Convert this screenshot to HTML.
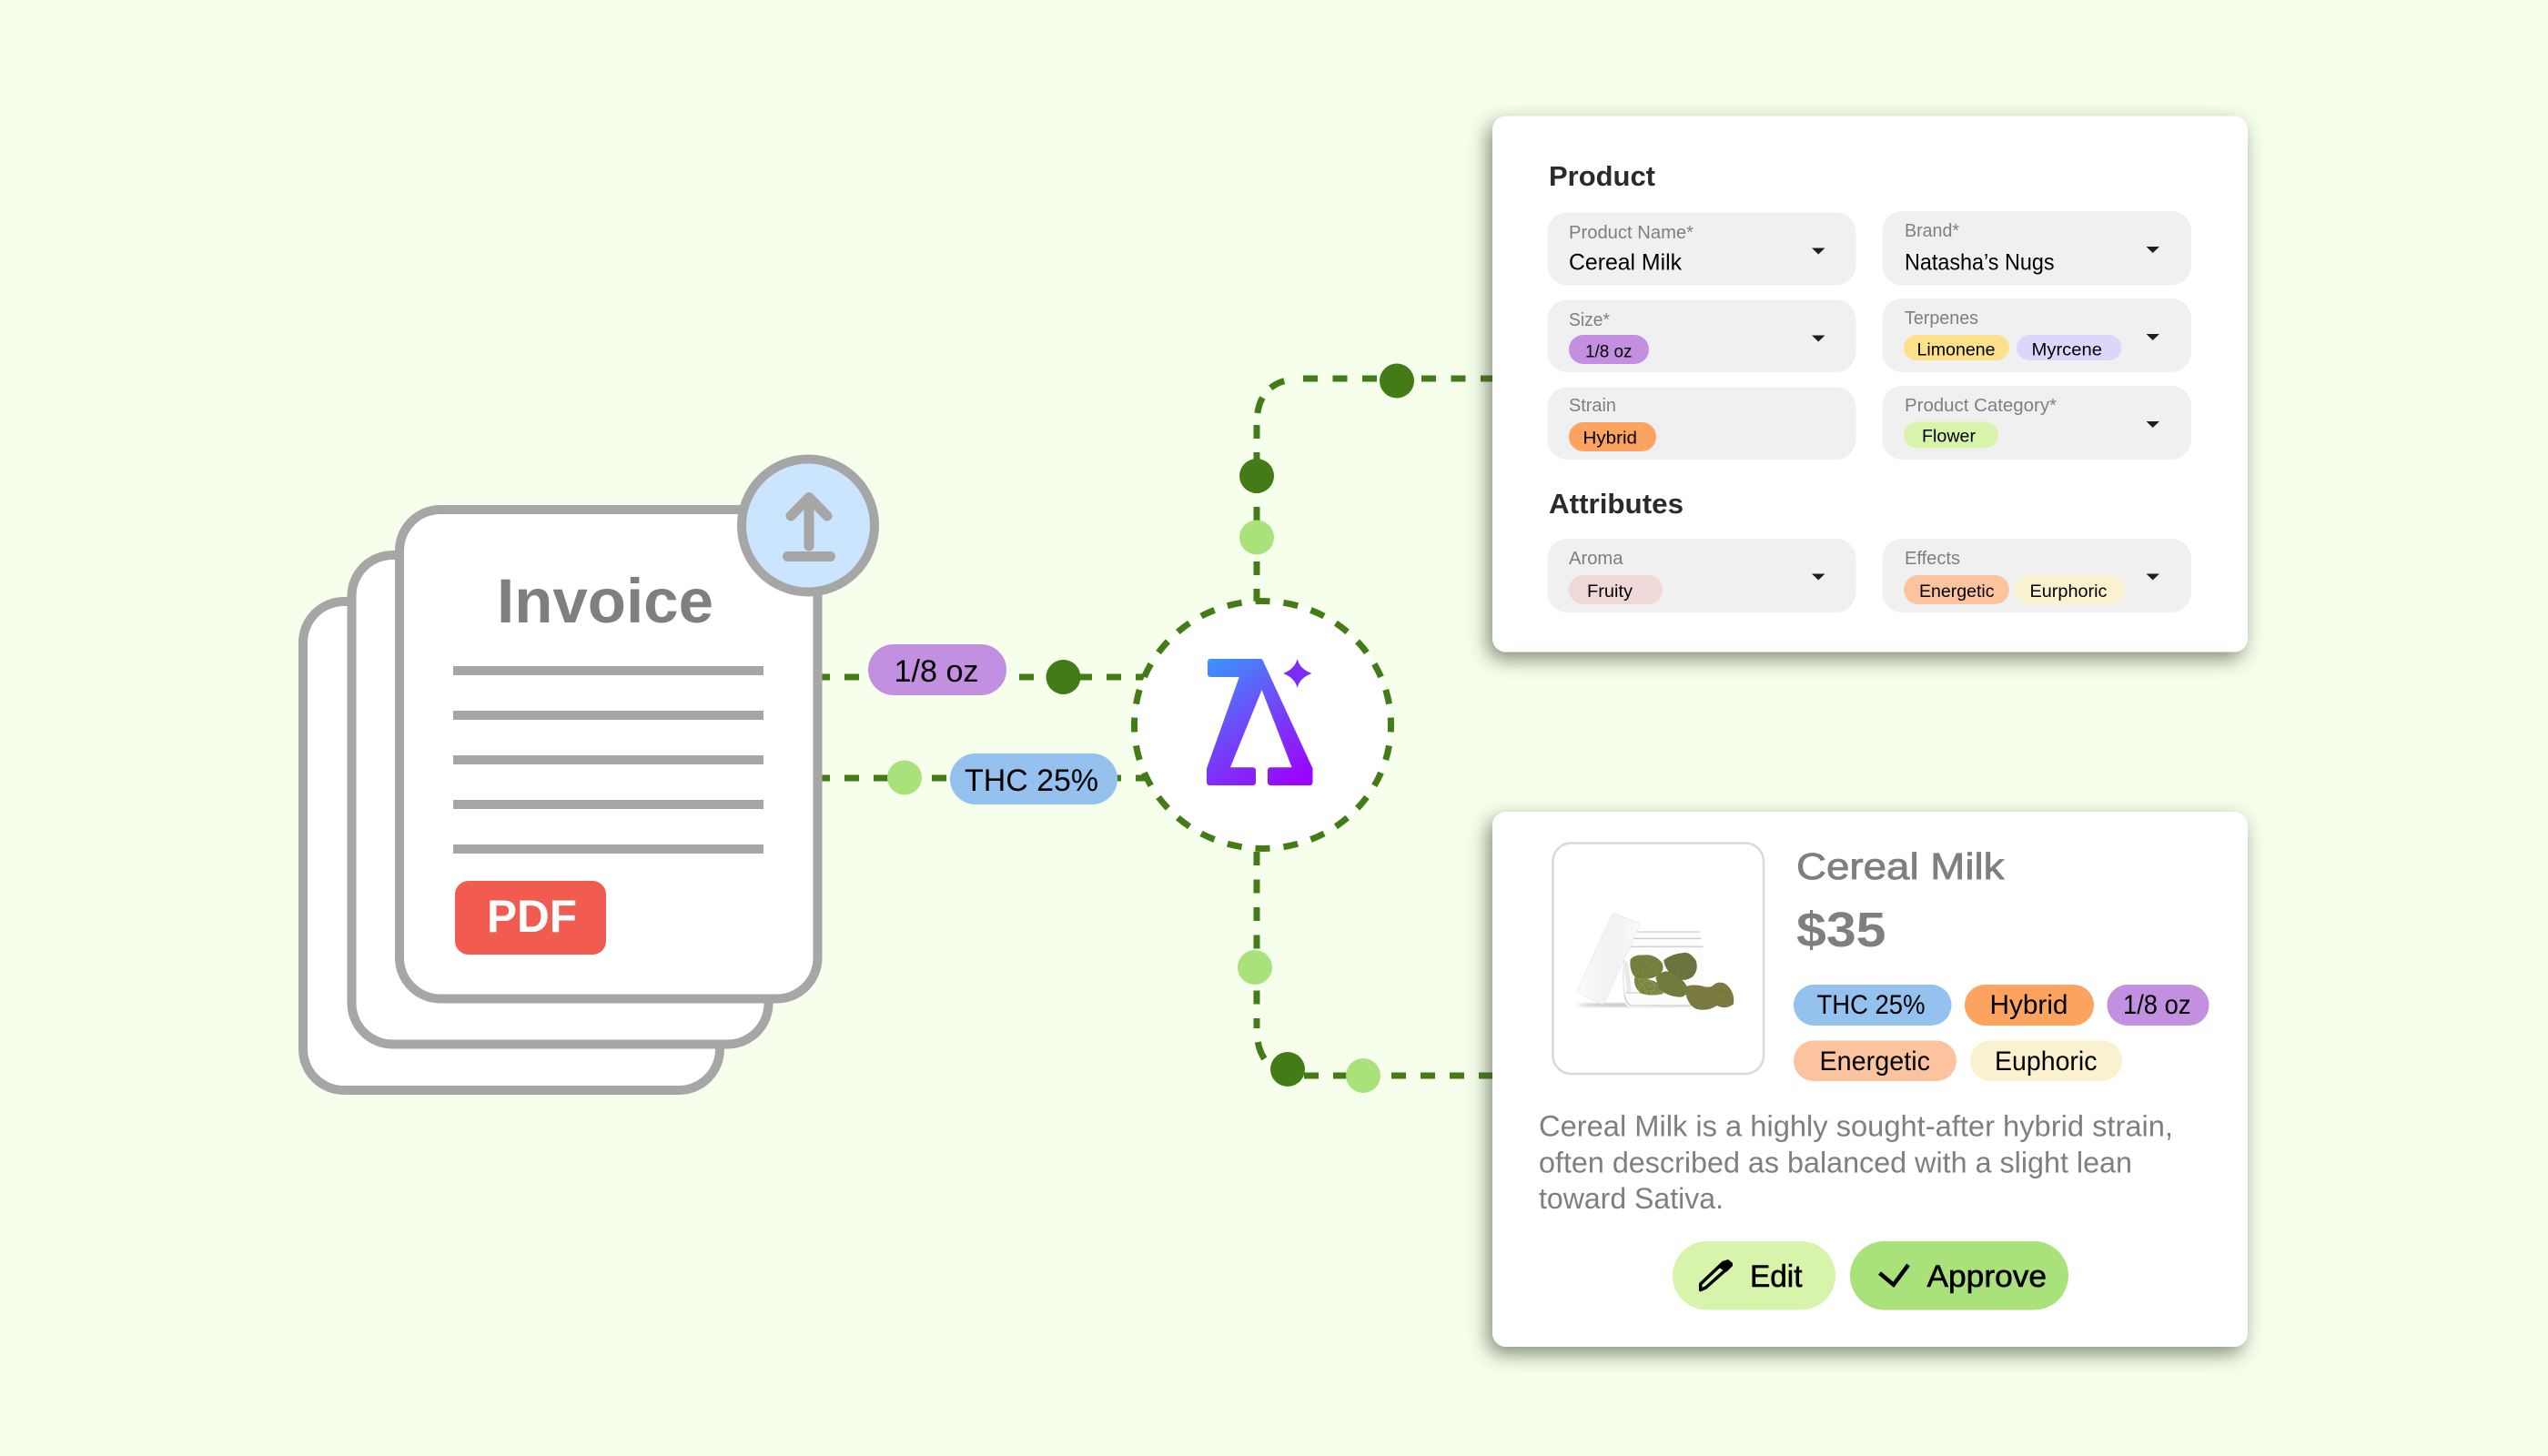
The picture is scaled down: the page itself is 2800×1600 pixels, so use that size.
<!DOCTYPE html>
<html lang="en">
<head>
<meta charset="utf-8">
<title>Invoice to product diagram</title>
<style>
html,body{margin:0;padding:0;background:#f6ffec;width:2800px;height:1600px;overflow:hidden}
svg{display:block}
text{font-family:"Liberation Sans",sans-serif}
.dash{fill:none;stroke:#437c17;stroke-width:7}
.h16{stroke-dasharray:16 16}
.dk{fill:#437c17}
.lt{fill:#a9e27a}
.doc{fill:#fff;stroke:#a6a6a6;stroke-width:10}
.ln{fill:#a6a6a6}
.fld{fill:#f1f0f0}
.lab{font-size:20px;fill:#7f7f7f}
.val{font-size:25px;fill:#000}
.tag{font-size:19px;fill:#000}
.big{font-size:31px;font-weight:700;fill:#2b2b2b}
.pill{font-size:30px;fill:#000}
.desc{font-size:32px;fill:#7f7f7f}
.btn{font-size:34px;fill:#000;stroke:#000;stroke-width:.6}
.arr{fill:#1e1e1e}
</style>
</head>
<body>
<svg xmlns="http://www.w3.org/2000/svg" width="2800" height="1600" viewBox="0 0 2800 1600">
<defs>
<linearGradient id="lg" gradientUnits="userSpaceOnUse" x1="1330" y1="722" x2="1420" y2="860">
<stop offset="0" stop-color="#3a96fb"/>
<stop offset=".45" stop-color="#6a50f8"/>
<stop offset="1" stop-color="#9a06fb"/>
</linearGradient>
<filter id="sh" x="-15%" y="-15%" width="130%" height="130%">
<feDropShadow dx="-5" dy="8" stdDeviation="11" flood-color="#3c4630" flood-opacity=".62"/>
</filter>
<filter id="bud" x="-5%" y="-5%" width="110%" height="110%">
<feTurbulence type="fractalNoise" baseFrequency=".16" numOctaves="3" seed="7" result="n"/>
<feColorMatrix in="n" type="matrix" values="0 0 0 0 .16  0 0 0 0 .19  0 0 0 0 .06  0 0 0 5 -2.2" result="c"/>
<feComposite in="c" in2="SourceAlpha" operator="in" result="t"/>
<feMerge><feMergeNode in="SourceGraphic"/><feMergeNode in="t"/></feMerge>
</filter>
<filter id="bl"><feGaussianBlur stdDeviation="5"/></filter>
<linearGradient id="lid" x1="0" y1="0" x2="1" y2="0">
<stop offset="0" stop-color="#fbfbfb"/><stop offset=".6" stop-color="#f1f1f1"/><stop offset="1" stop-color="#fbfbfb"/>
</linearGradient>
</defs>

<rect width="2800" height="1600" fill="#f6ffec"/>

<!-- connectors -->
<line class="dash h16" x1="896" y1="744" x2="1262" y2="744"/>
<line class="dash h16" x1="896" y1="855" x2="1262" y2="855"/>

<path class="dash" d="M1381 662V466" stroke-dasharray="15 15"/>
<path class="dash" d="M1381 466Q1381 416 1432 416" stroke-dasharray="0 12 18 14 17 100"/>
<path class="dash" d="M1432 416H1640" stroke-dasharray="16 16.5"/>

<path class="dash" d="M1381 936V1130" stroke-dasharray="15 15.5"/>
<path class="dash" d="M1381 1130Q1381 1182 1433 1182" stroke-dasharray="0 15 20 100"/>
<path class="dash" d="M1433 1182H1640" stroke-dasharray="16 16"/>

<!-- documents -->
<rect class="doc" x="333" y="661" width="458" height="537" rx="45"/>
<rect class="doc" x="386.500" y="610" width="458" height="537.500" rx="45"/>
<rect class="doc" x="439" y="560" width="459.500" height="537.500" rx="45"/>
<text x="546" y="684" font-size="69" font-weight="700" fill="#7f7f7f" textLength="238" lengthAdjust="spacingAndGlyphs">Invoice</text>
<rect class="ln" x="498" y="732" width="341" height="10"/>
<rect class="ln" x="498" y="781" width="341" height="10"/>
<rect class="ln" x="498" y="830" width="341" height="10"/>
<rect class="ln" x="498" y="879" width="341" height="10"/>
<rect class="ln" x="498" y="928" width="341" height="10"/>
<rect x="500" y="968" width="166" height="81" rx="15" fill="#f15b50"/>
<text x="535" y="1024" font-size="50" font-weight="700" fill="#fff" textLength="99" lengthAdjust="spacingAndGlyphs">PDF</text>

<circle cx="888" cy="577.500" r="73" fill="#cce5ff" stroke="#a6a6a6" stroke-width="10"/>
<path d="M889 600V548M869 567L889 546.500L909 567" fill="none" stroke="#a6a6a6" stroke-width="11" stroke-linecap="round" stroke-linejoin="round"/>
<rect x="860" y="606" width="58" height="11" rx="5.500" fill="#a6a6a6"/>

<!-- flow pills -->
<rect x="954" y="708" width="152" height="56" rx="28" fill="#c38fe0"/>
<text x="982.500" y="749" font-size="34" fill="#000" textLength="93" lengthAdjust="spacingAndGlyphs">1/8 oz</text>
<circle class="dk" cx="1168.500" cy="744" r="19"/>
<circle class="lt" cx="994" cy="854.500" r="19"/>
<rect x="1044" y="828" width="184" height="56" rx="28" fill="#94c1ee"/>
<text x="1060" y="869" font-size="34" fill="#000" textLength="147" lengthAdjust="spacingAndGlyphs">THC 25%</text>

<!-- central node -->
<ellipse cx="1387.500" cy="796.500" rx="141" ry="136" fill="#fff" stroke="#437c17" stroke-width="7" pathLength="868" stroke-dasharray="16 15" stroke-dashoffset="8"/>
<path d="M1330 727H1385L1439.500 845V860H1396V846.300H1424L1386.700 750L1347.500 846.300H1377V860H1329V845L1366 741H1330Z" fill="url(#lg)" stroke="url(#lg)" stroke-width="6" stroke-linejoin="round"/>
<path d="M1425.700 724Q1428 735 1441.500 740Q1428 745 1425.700 756Q1423 745 1410 740Q1423 735 1425.700 724Z" fill="#7c2cf5"/>

<circle class="dk" cx="1381" cy="523" r="19"/>
<circle class="lt" cx="1381" cy="590.500" r="19"/>
<circle class="dk" cx="1535" cy="418.500" r="19"/>
<circle class="lt" cx="1379" cy="1063" r="19"/>
<circle class="dk" cx="1415" cy="1175" r="19"/>
<circle class="lt" cx="1498" cy="1182" r="19"/>

<!-- card 1 -->
<rect x="1640" y="127.500" width="830" height="589" rx="15" fill="#fff" filter="url(#sh)"/>
<text class="big" x="1702" y="204" textLength="117" lengthAdjust="spacingAndGlyphs">Product</text>

<rect class="fld" x="1700.500" y="233.500" width="339" height="80" rx="22"/>
<rect class="fld" x="2068.500" y="232" width="339.500" height="81.500" rx="22"/>
<rect class="fld" x="1700.500" y="329.500" width="339" height="79.500" rx="22"/>
<rect class="fld" x="2068.500" y="328" width="339.500" height="81" rx="22"/>
<rect class="fld" x="1700.500" y="425.500" width="339" height="79.500" rx="22"/>
<rect class="fld" x="2068.500" y="424" width="339.500" height="81" rx="22"/>
<rect class="fld" x="1700.500" y="592" width="339" height="81" rx="22"/>
<rect class="fld" x="2068.500" y="592" width="339.500" height="81" rx="22"/>

<text class="lab" x="1724" y="262" textLength="137" lengthAdjust="spacingAndGlyphs">Product Name*</text>
<text class="val" x="1724" y="296.500" textLength="124" lengthAdjust="spacingAndGlyphs">Cereal Milk</text>
<text class="lab" x="2093" y="260" textLength="60" lengthAdjust="spacingAndGlyphs">Brand*</text>
<text class="val" x="2093" y="296.500" textLength="164.500" lengthAdjust="spacingAndGlyphs">Natasha’s Nugs</text>

<text class="lab" x="1724" y="358" textLength="45" lengthAdjust="spacingAndGlyphs">Size*</text>
<rect x="1724" y="368" width="88" height="32" rx="16" fill="#c38fe0"/>
<text class="tag" x="1742" y="392.500" textLength="51.500" lengthAdjust="spacingAndGlyphs">1/8 oz</text>

<text class="lab" x="2093" y="356" textLength="81" lengthAdjust="spacingAndGlyphs">Terpenes</text>
<rect x="2092" y="368" width="116" height="28" rx="14" fill="#fce08a"/>
<text class="tag" x="2106.500" y="390.500" textLength="86" lengthAdjust="spacingAndGlyphs">Limonene</text>
<rect x="2216" y="368" width="115.500" height="28" rx="14" fill="#dcd6fa"/>
<text class="tag" x="2232.500" y="390.500" textLength="77.500" lengthAdjust="spacingAndGlyphs">Myrcene</text>

<text class="lab" x="1724" y="452" textLength="52" lengthAdjust="spacingAndGlyphs">Strain</text>
<rect x="1724" y="464" width="96" height="32" rx="16" fill="#fba35f"/>
<text class="tag" x="1739.500" y="487.500" textLength="59.500" lengthAdjust="spacingAndGlyphs">Hybrid</text>

<text class="lab" x="2093" y="452" textLength="167" lengthAdjust="spacingAndGlyphs">Product Category*</text>
<rect x="2092" y="463.500" width="104" height="29" rx="14.500" fill="#d8f4ab"/>
<text class="tag" x="2112" y="485.500" textLength="59" lengthAdjust="spacingAndGlyphs">Flower</text>

<text class="big" x="1702" y="564" textLength="148" lengthAdjust="spacingAndGlyphs">Attributes</text>

<text class="lab" x="1724" y="620" textLength="59.500" lengthAdjust="spacingAndGlyphs">Aroma</text>
<rect x="1724" y="632" width="103" height="32" rx="16" fill="#f0d8d8"/>
<text class="tag" x="1744" y="656" textLength="50" lengthAdjust="spacingAndGlyphs">Fruity</text>

<text class="lab" x="2093" y="620" textLength="61" lengthAdjust="spacingAndGlyphs">Effects</text>
<rect x="2092" y="632" width="116" height="32" rx="16" fill="#fbc49f"/>
<text class="tag" x="2109" y="656" textLength="82.500" lengthAdjust="spacingAndGlyphs">Energetic</text>
<rect x="2214" y="632" width="121" height="32" rx="16" fill="#faf1cf"/>
<text class="tag" x="2230.500" y="656" textLength="85" lengthAdjust="spacingAndGlyphs">Eurphoric</text>

<path class="arr" d="M1991 272.500H2005.500L1998.200 279.500Z"/>
<path class="arr" d="M2358.500 271H2373L2365.700 278Z"/>
<path class="arr" d="M1991 368.500H2005.500L1998.200 375.500Z"/>
<path class="arr" d="M2358.500 367H2373L2365.700 374Z"/>
<path class="arr" d="M2358.500 463H2373L2365.700 470Z"/>
<path class="arr" d="M1991 630.500H2005.500L1998.200 637.500Z"/>
<path class="arr" d="M2358.500 630.500H2373L2365.700 637.500Z"/>

<!-- card 2 -->
<rect x="1640" y="892" width="830" height="588" rx="15" fill="#fff" filter="url(#sh)"/>
<rect x="1706.500" y="926.500" width="231.500" height="253.500" rx="20" fill="#fff" stroke="#d9d9d9" stroke-width="2.500"/>

<g transform="translate(1690 915) scale(.33333)">
<ellipse cx="320" cy="568" rx="190" ry="7" fill="#c4c4c4" filter="url(#bl)"/>
<path d="M318 325H535Q540 336 535 348L540 378Q548 470 542 560Q530 575 300 575Q282 565 285 540Q284 460 300 378L316 348Q312 335 318 325Z" fill="#fbfcfc"/>
<path d="M318 327H535M315 349H538M305 376H545" fill="none" stroke="#cdd2d1" stroke-width="4"/>
<path d="M285 535Q290 560 305 570H520M290 528H500" fill="none" stroke="#c9cecd" stroke-width="4"/>
<path d="M285 420Q278 480 285 535" fill="none" stroke="#e2e5e4" stroke-width="4"/>
<path d="M288 425Q298 470 300 525" fill="none" stroke="#e8e8e8" stroke-width="14"/>
<g filter="url(#bud)">
<path d="M305 418Q318 402 345 404Q385 398 410 430Q420 455 395 472Q355 490 322 478Q300 455 305 418Z" fill="#7a823b"/>
<path d="M415 420Q440 400 480 396Q500 392 520 420Q532 450 510 475Q480 495 455 478Q418 455 415 420Z" fill="#66713a"/>
<path d="M318 478Q355 475 395 495Q420 515 410 532Q370 540 340 530Q315 510 318 478Z" fill="#8a9445"/>
<path d="M388 478Q415 445 445 465Q480 480 495 515Q490 540 470 542Q425 540 400 515Z" fill="#757c38"/>
<path d="M484 510Q505 498 540 505Q570 515 582 500Q600 488 620 500Q650 525 645 565Q620 585 590 570Q560 590 525 582Q490 570 484 510Z" fill="#807c3c"/>
</g>
<path d="M255 267L332 298Q338 302 334 310L220 558Q214 568 204 562L135 530Q128 526 132 516L244 271Q248 263 255 267Z" fill="url(#lid)" stroke="#e4e4e4" stroke-width="2"/>
</g>

<text x="1974" y="966" font-size="41" fill="#7f7f7f" stroke="#7f7f7f" stroke-width=".8" textLength="228.500" lengthAdjust="spacingAndGlyphs">Cereal Milk</text>
<text x="1974" y="1040" font-size="54" font-weight="700" fill="#7f7f7f" textLength="98.500" lengthAdjust="spacingAndGlyphs">$35</text>

<rect x="1971" y="1082" width="173.500" height="45" rx="22.500" fill="#94c1ee"/>
<text class="pill" x="1996.500" y="1114" textLength="119" lengthAdjust="spacingAndGlyphs">THC 25%</text>
<rect x="2159" y="1082" width="142" height="45" rx="22.500" fill="#fba35f"/>
<text class="pill" x="2186.500" y="1114" textLength="86" lengthAdjust="spacingAndGlyphs">Hybrid</text>
<rect x="2315.500" y="1082" width="112" height="45" rx="22.500" fill="#c38fe0"/>
<text class="pill" x="2333" y="1114" textLength="74.500" lengthAdjust="spacingAndGlyphs">1/8 oz</text>
<rect x="1971" y="1143.500" width="179" height="44.500" rx="22.200" fill="#fbc49f"/>
<text class="pill" x="1999.500" y="1176" textLength="121.500" lengthAdjust="spacingAndGlyphs">Energetic</text>
<rect x="2165" y="1143.500" width="167" height="44.500" rx="22.200" fill="#faf1cf"/>
<text class="pill" x="2192" y="1176" textLength="112.500" lengthAdjust="spacingAndGlyphs">Euphoric</text>

<text class="desc" x="1691" y="1248.500" textLength="697" lengthAdjust="spacingAndGlyphs">Cereal Milk is a highly sought-after hybrid strain,</text>
<text class="desc" x="1691" y="1288.500" textLength="652" lengthAdjust="spacingAndGlyphs">often described as balanced with a slight lean</text>
<text class="desc" x="1691" y="1328" textLength="203" lengthAdjust="spacingAndGlyphs">toward Sativa.</text>

<rect x="1838" y="1364" width="179" height="75.500" rx="37.700" fill="#d8f4ab"/>
<path d="M1868.700 1417.500V1411L1893.500 1387.500L1902 1390.500L1874.500 1415Z" fill="none" stroke="#000" stroke-width="3.500" stroke-linejoin="round"/>
<path d="M1893 1386L1899 1384L1904 1388V1391L1897 1398L1887.500 1392Z" fill="#000"/>
<text class="btn" x="1923" y="1414" textLength="57.500" lengthAdjust="spacingAndGlyphs">Edit</text>

<rect x="2033" y="1364" width="240" height="75.500" rx="37.700" fill="#a9e27a"/>
<path d="M2065.500 1399L2080.800 1411.800L2097 1390" fill="none" stroke="#000" stroke-width="4.500"/>
<text class="btn" x="2117.500" y="1414" textLength="131.500" lengthAdjust="spacingAndGlyphs">Approve</text>
</svg>
</body>
</html>
